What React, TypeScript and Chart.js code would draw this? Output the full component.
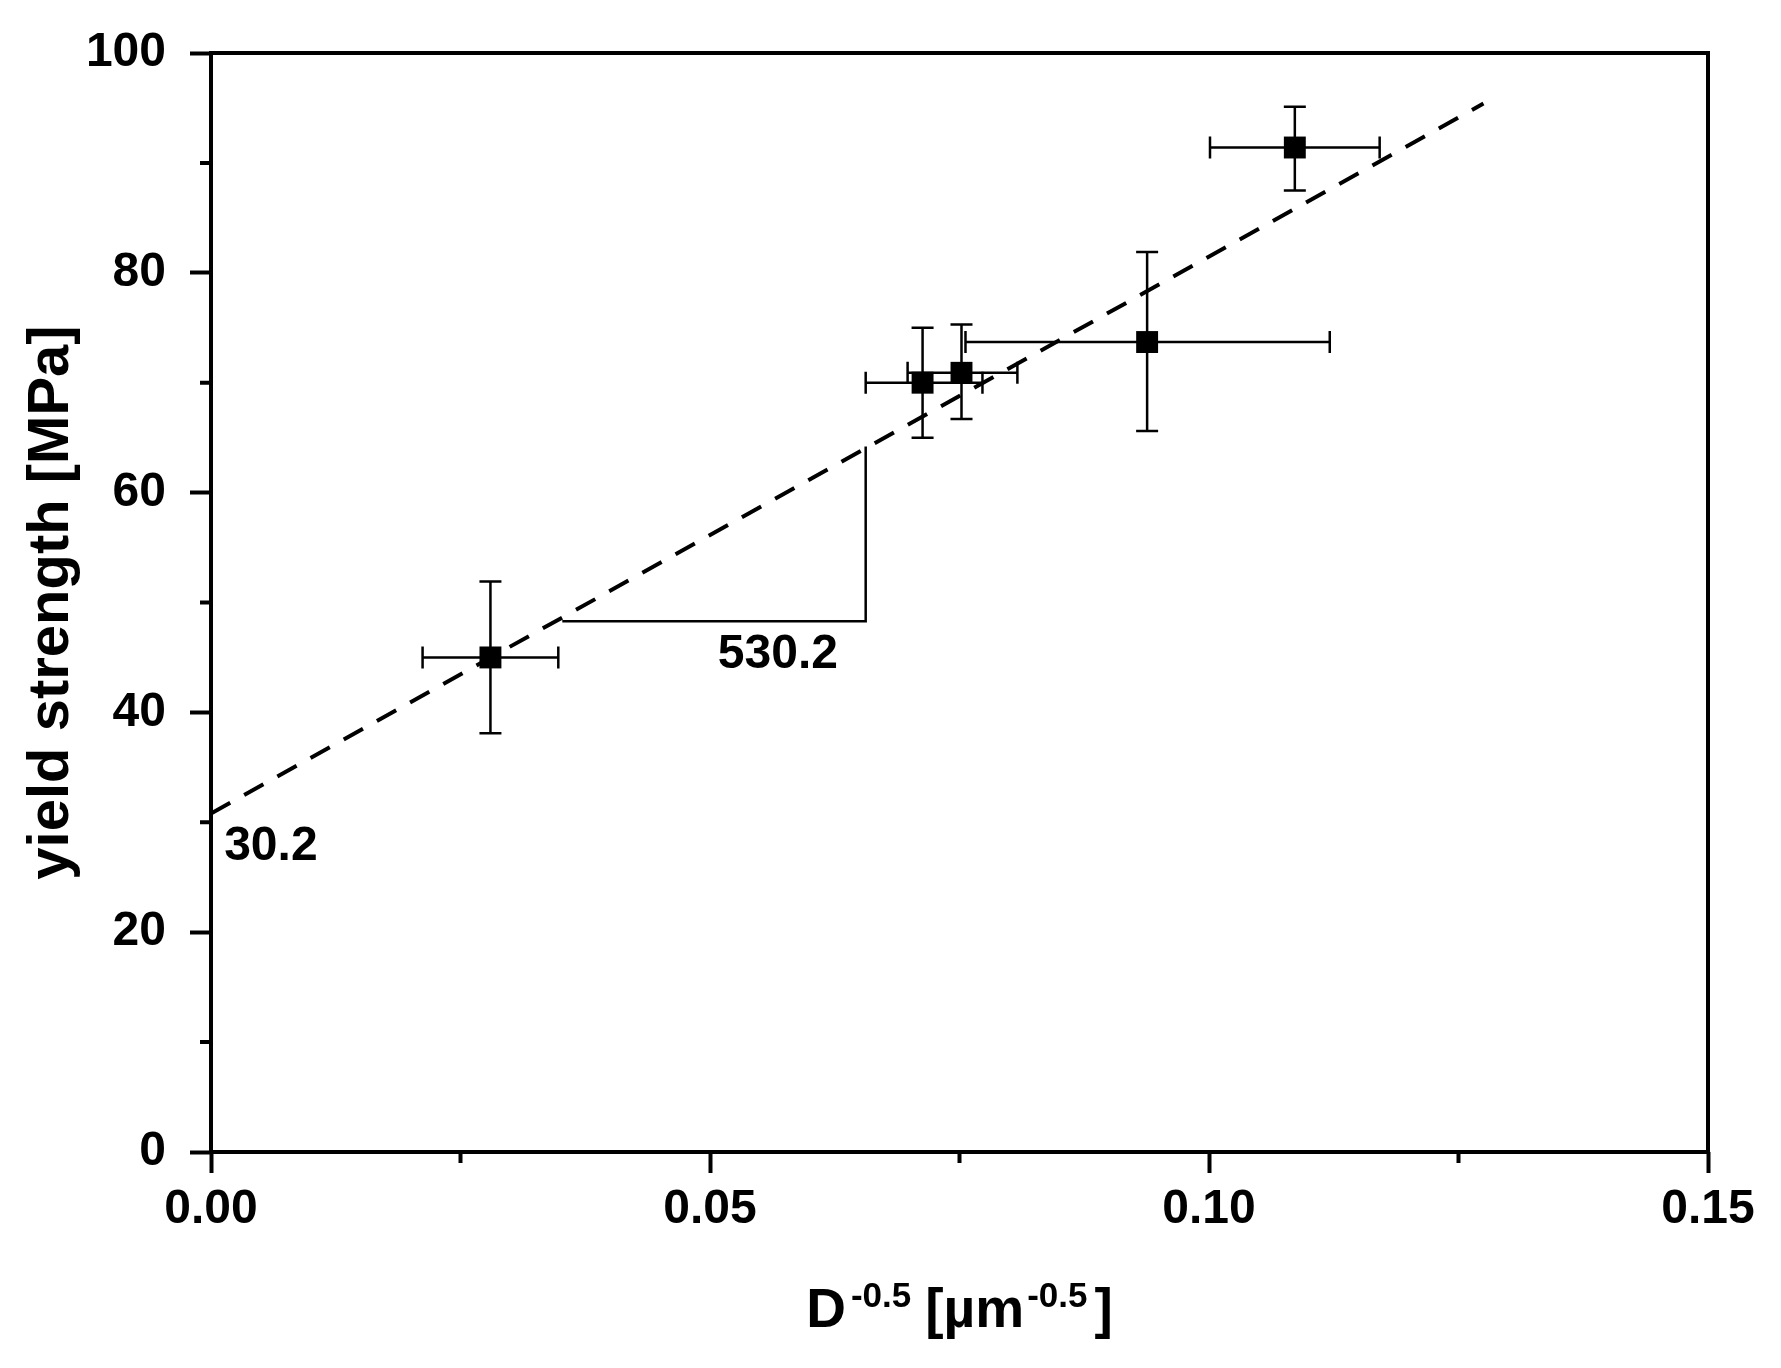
import { useEffect, useRef } from 'react';
import { Chart, registerables } from 'chart.js';

Chart.register(...registerables);

// measured points: D^-0.5 vs yield strength, with error ranges
const xValues = [0.028, 0.0713, 0.0752, 0.0938, 0.1086];
const yValues = [45.0, 70.0, 70.9, 73.7, 91.4];
const xLow = [0.0212, 0.0656, 0.0698, 0.0756, 0.1001];
const xHigh = [0.0348, 0.0773, 0.0808, 0.1121, 0.1171];
const yLow = [38.1, 65.0, 66.7, 65.6, 87.5];
const yHigh = [51.9, 75.0, 75.3, 81.9, 95.1];

// Hall-Petch fit line ends
const fitX = [0, 0.1275];
const fitY = [30.8, 95.4];

// slope triangle
const slopeX = [0.0352, 0.0656, 0.0656];
const slopeY = [48.3, 48.3, 64.2];

const slopeLabel = '530.2';
const interceptLabel = '30.2';

const xMinorTicks = [0.025, 0.075, 0.125];
const yMinorTicks = [10, 30, 50, 70, 90];

const FONT = '"Liberation Sans", Arial, sans-serif';

export default function App() {
  const chartRef = useRef<HTMLCanvasElement | null>(null);

  useEffect(() => {
    document.body.style.margin = '0';
    let newChart: Chart | null = null;

    const decor = {
      id: 'decor',
      beforeDatasetsDraw(chart: any) {
        const { ctx, scales } = chart;
        const xs = scales.x;
        const ys = scales.y;
        ctx.save();
        ctx.strokeStyle = '#000';
        ctx.lineWidth = 2.5;
        const cap = 11;
        for (let i = 0; i < xValues.length; i++) {
          const px = xs.getPixelForValue(xValues[i]);
          const py = ys.getPixelForValue(yValues[i]);
          const xl = xs.getPixelForValue(xLow[i]);
          const xh = xs.getPixelForValue(xHigh[i]);
          const yl = ys.getPixelForValue(yLow[i]);
          const yh = ys.getPixelForValue(yHigh[i]);
          ctx.beginPath();
          ctx.moveTo(xl, py);
          ctx.lineTo(xh, py);
          ctx.moveTo(xl, py - cap);
          ctx.lineTo(xl, py + cap);
          ctx.moveTo(xh, py - cap);
          ctx.lineTo(xh, py + cap);
          ctx.moveTo(px, yl);
          ctx.lineTo(px, yh);
          ctx.moveTo(px - cap, yl);
          ctx.lineTo(px + cap, yl);
          ctx.moveTo(px - cap, yh);
          ctx.lineTo(px + cap, yh);
          ctx.stroke();
        }
        ctx.restore();
      },
      afterDraw(chart: any) {
        const { ctx, chartArea, scales } = chart;
        const xs = scales.x;
        const ys = scales.y;
        const { left, right, top, bottom } = chartArea;
        ctx.save();
        ctx.strokeStyle = '#000';
        ctx.lineWidth = 4;
        ctx.strokeRect(left, top, right - left, bottom - top);

        // minor ticks (outward)
        ctx.beginPath();
        xMinorTicks.forEach((v) => {
          const px = xs.getPixelForValue(v);
          ctx.moveTo(px, bottom);
          ctx.lineTo(px, bottom + 11);
        });
        yMinorTicks.forEach((v) => {
          const py = ys.getPixelForValue(v);
          ctx.moveTo(left, py);
          ctx.lineTo(left - 11, py);
        });
        ctx.stroke();

        ctx.fillStyle = '#000';
        ctx.textBaseline = 'middle';
        ctx.textAlign = 'center';
        ctx.font = `bold 48px ${FONT}`;
        ctx.fillText(slopeLabel, xs.getPixelForValue(0.0568), ys.getPixelForValue(45.2));
        ctx.fillText(interceptLabel, xs.getPixelForValue(0.006), ys.getPixelForValue(27.75));

        // y axis title
        ctx.save();
        ctx.translate(52, (top + bottom) / 2);
        ctx.rotate(-Math.PI / 2);
        ctx.font = `bold 58px ${FONT}`;
        ctx.textBaseline = 'middle';
        ctx.fillText('yield strength [MPa]', 0, 0);
        ctx.restore();

        // x axis title with superscripts
        const cx = (left + right) / 2;
        const base = 1327;
        const supBase = 1307;
        const big = `bold 55px ${FONT}`;
        const small = `bold 35px ${FONT}`;
        const parts: [string, string, number, number][] = [
          ['D', big, base, 5],
          ['-0.5', small, supBase, 14],
          ['[\u00b5m', big, base, 3],
          ['-0.5', small, supBase, 7],
          [']', big, base, 0],
        ];
        let total = 0;
        parts.forEach(([t, f, , gap]) => {
          ctx.font = f;
          total += ctx.measureText(t).width + gap;
        });
        ctx.textAlign = 'left';
        ctx.textBaseline = 'alphabetic';
        let px = cx - total / 2;
        parts.forEach(([t, f, b, gap]) => {
          ctx.font = f;
          ctx.fillText(t, px, b);
          px += ctx.measureText(t).width + gap;
        });
        ctx.restore();
      },
    };

    if (chartRef.current) {
      const context = chartRef.current.getContext('2d');
      if (context) {
        newChart = new Chart(context, {
          type: 'scatter',
          data: {
            datasets: [
              {
                label: 'fit',
                data: fitX.map((x, i) => ({ x, y: fitY[i] })),
                showLine: true,
                borderColor: '#000',
                borderWidth: 4,
                borderDash: [22, 16],
                pointRadius: 0,
              },
              {
                label: 'slope',
                data: slopeX.map((x, i) => ({ x, y: slopeY[i] })),
                showLine: true,
                borderColor: '#000',
                borderWidth: 2.5,
                pointRadius: 0,
              },
              {
                label: 'yield strength',
                data: xValues.map((x, i) => ({ x, y: yValues[i] })),
                pointStyle: 'rect',
                pointRadius: 15.5,
                backgroundColor: '#000',
                borderWidth: 0,
              },
            ],
          },
          options: {
            animation: false,
            responsive: false,
            devicePixelRatio: 1,
            layout: { padding: { top: 53, right: 73, left: 0, bottom: 0 } },
            plugins: {
              legend: { display: false },
              tooltip: { enabled: false },
            },
            scales: {
              x: {
                type: 'linear',
                min: 0,
                max: 0.15,
                afterFit: (s: any) => {
                  s.height = 216;
                },
                border: { display: false },
                grid: {
                  drawOnChartArea: false,
                  drawTicks: true,
                  tickLength: 21,
                  tickWidth: 4,
                  tickColor: '#000',
                },
                ticks: {
                  stepSize: 0.05,
                  padding: 8,
                  color: '#000',
                  maxRotation: 0,
                  font: { family: FONT, size: 48, weight: 'bold' },
                  callback: (v: any) => Number(v).toFixed(2),
                },
              },
              y: {
                type: 'linear',
                min: 0,
                max: 100,
                afterFit: (s: any) => {
                  s.width = 211;
                },
                border: { display: false },
                grid: {
                  drawOnChartArea: false,
                  drawTicks: true,
                  tickLength: 21,
                  tickWidth: 4,
                  tickColor: '#000',
                },
                ticks: {
                  stepSize: 20,
                  padding: 24,
                  color: '#000',
                  font: { family: FONT, size: 48, weight: 'bold' },
                },
              },
            },
          },
          plugins: [decor],
        });
      }
    }

    return () => {
      if (newChart) {
        newChart.destroy();
      }
    };
  }, []);

  return (
    <div style={{ position: 'relative', width: 1781, height: 1368, background: '#fff' }}>
      <canvas ref={chartRef} width={1781} height={1368}></canvas>
    </div>
  );
}
